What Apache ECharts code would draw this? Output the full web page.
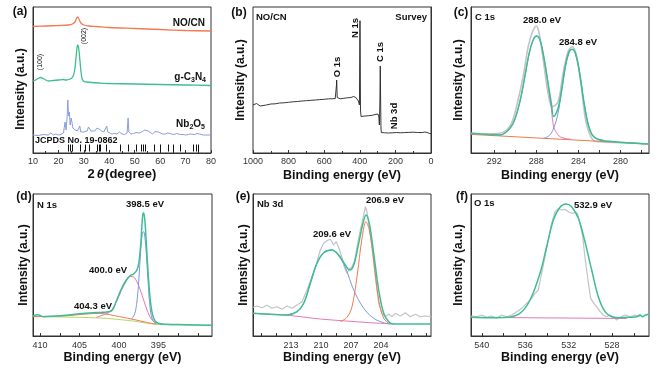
<!DOCTYPE html>
<html><head><meta charset="utf-8">
<script src="https://cdn.jsdelivr.net/npm/echarts@6/dist/echarts.min.js"></script>
<style>html,body{margin:0;padding:0;background:#fff}#c{width:659px;height:372px}</style>
</head><body><div id="c"></div>
<script>
// ================= DATA =================
// (a) XRD, 2theta (degree) vs intensity (a.u.)
const xrdNOCN = [[10,126.5],[15,127],[20,127.5],[24,128],[25.5,129],[26.5,131],[27,134],[27.5,136],[28,134.5],[28.5,131.5],[29,129.5],[30,128],[32,127],[35,126.5],[40,125.5],[50,124.5],[60,123.5],[70,122.5],[80,122]];
const xrdGCN = [[10,72],[11,73],[12,74.5],[13,75.5],[14,74.5],[15,73],[16,72],[18,72.5],[20,73],[22,73.5],[23,73],[24,73.5],[25,74.5],[25.8,77],[26.4,83],[26.9,95],[27.3,105],[27.6,108],[27.9,106],[28.3,97],[28.8,83],[29.3,74.5],[30,71.5],[31,71],[33,70.5],[36,70],[40,69.5],[50,69],[60,68.5],[70,68],[80,67.5]];
const xrdNb2O5 = [[10,18],[12,17.5],[14,18.5],[16,18],[17,20],[18,18],[19,19],[20,18],[21,18.5],[22,20],[22.6,31],[23,23],[23.4,35],[23.7,53],[24.0,37],[24.3,41],[24.6,28],[25.0,35],[25.3,31],[25.7,25],[26.2,27],[26.6,23],[27.0,25],[27.5,22],[28.0,22],[28.4,27],[28.8,21],[29.5,20],[30,21],[30.5,20],[31.3,22],[31.8,26],[32.3,25],[32.8,22],[33.5,20],[34.3,22],[35.2,25],[35.6,27],[36.0,24],[36.6,26],[37.0,22],[37.8,21],[38.5,22],[39.0,27],[39.4,21],[40,19],[41,19],[42,19.5],[43,19],[44,21],[44.5,22],[45,19],[46,18.5],[47,20],[47.4,35],[47.7,21],[48.5,19],[49.5,19.5],[50.5,20.5],[51.2,22],[52,20],[53,21.5],[54,23],[54.6,24],[55.3,22],[56,20],[57,19],[58,21.5],[58.6,23],[59.3,21],[60,19.5],[61,19],[62,19],[63,20],[63.6,20],[64.5,19],[65.5,18.5],[66.5,19.5],[67.2,19.5],[68,18.5],[69,18.5],[70,18],[71,18.5],[72,19],[72.6,19.5],[73.5,18.5],[74.5,19.5],[75.5,19],[77,18],[78,18],[80,18]];
const jcpds = [23.8,24.7,25.5,28.7,30.4,32.1,35.3,35.9,36.6,38.7,44.2,47.5,50.8,52.5,53.4,54.3,57.6,60.0,63.3,65.0,67.9,73.2,74.2,75.1];

// (b) XPS survey, binding energy (eV) vs intensity
const survey = [[1000,48],[990,48.5],[980,49.5],[975,51.5],[970,47.5],[960,47],[950,47.5],[925,48],[900,49],[875,49.2],[850,50],[825,50.2],[800,50.7],[775,51.2],[750,51.5],[725,52],[700,52.3],[675,52.7],[650,53],[625,53.4],[600,53.7],[575,54.2],[555,54.2],[545,54.5],[538,54.5],[533,55.5],[531,68],[530,73],[529,68],[527,55.5],[520,54],[510,54.2],[490,54.7],[470,55.2],[450,55.5],[435,56.5],[428,57],[422,55.5],[415,54],[408,52],[405,53.5],[402,48],[400,113],[399,132.3],[398,113],[396,43],[393,36.5],[385,36.7],[370,37],[350,37.3],[330,37.7],[315,38.5],[305,39.5],[298,39],[293,36],[290,28],[287,53],[285,87],[283,53],[281,25],[279,20.5],[275,20],[260,20.2],[240,20],[215,20.2],[205,20.8],[195,20.5],[170,20.2],[150,20.4],[125,20.6],[100,20.8],[75,20.5],[50,20.4],[35,21],[28,22],[22,20.5],[15,20],[8,19.5],[0,19.5]];

// (c) C 1s
const c1sRaw = [[294.2,19.7],[292.72,19],[291.46,19.7],[290.82,23],[290.35,29.7],[289.88,46.3],[289.25,76.3],[288.77,106.3],[288.36,121.3],[287.99,127],[287.73,119.7],[287.29,89.7],[286.88,59.7],[286.47,46.3],[285.93,51.3],[285.46,79.7],[284.99,101.3],[284.61,106.3],[284.2,98],[283.73,66.3],[283.25,29.7],[282.62,13],[281.99,11.3],[279.47,10.3],[277.32,9]];
const c1sFit = [[294.2,19.7],[292.72,18.7],[291.46,18],[290.82,21.3],[290.19,29.7],[289.56,51.3],[289.09,76.3],[288.68,99.7],[288.3,113],[287.99,117],[287.67,113.7],[287.29,96.3],[286.88,69.7],[286.57,49.7],[286.36,36.5],[286.1,40],[285.84,48.5],[285.56,65.5],[285.24,87],[284.89,101.3],[284.61,103.7],[284.29,99.7],[283.88,79.7],[283.51,53],[283.1,29.7],[282.69,18],[282.15,13.7],[281.36,12],[279.47,10.3],[277.32,9]];
const c1s288 = [[292.72,18.7],[291.46,18],[290.82,21.3],[290.19,29.7],[289.56,51.3],[289.09,76.3],[288.68,99.7],[288.3,113],[287.99,117],[287.67,113.7],[287.29,96],[286.88,68],[286.57,44],[286.35,26],[286.09,20.5],[285.84,17],[285.56,15.5],[285.15,14.3],[284.68,13.8]];
const c1s284 = [[287.35,14.5],[286.88,16.5],[286.57,20],[286.35,25],[286.09,33],[285.84,45],[285.56,64],[285.24,86],[284.89,100],[284.61,103.7],[284.29,99.7],[283.88,79.7],[283.51,53],[283.1,29.7],[282.69,18],[282.15,13.7],[281.68,12.8]];
const c1sBg = [[294.2,18.6],[277.3,9]];
const c1sTicks = [292,288,284,280];

// (d) N 1s
const n1sFit = [[410.9,20],[410.27,21.3],[409.63,19.3],[408.36,19.7],[406.67,20.7],[404.98,22.3],[403.29,23.3],[402.02,23.7],[400.97,25],[400.33,35],[399.7,47],[399.07,56],[398.56,60.5],[398.14,62],[397.72,66],[397.46,74],[397.2,96],[397.04,116],[396.91,123.3],[396.74,117.7],[396.53,92.7],[396.27,59.3],[395.98,32.7],[395.6,17.7],[395.05,12.7],[393.99,11.7],[391.46,11.3],[388.2,10.7]];
const n1s400 = [[402.87,18.7],[402.02,21],[401.18,24],[400.33,34],[399.7,45.5],[399.06,55],[398.56,59.5],[398.13,59],[397.71,54],[397.29,46],[396.87,36],[396.44,26],[395.9,17],[395.26,12.7]];
const n1s398 = [[398.43,16.7],[398.01,22],[397.71,35],[397.46,58],[397.25,85],[397.03,103],[396.87,104.3],[396.7,98],[396.49,78],[396.27,50],[396.02,26],[395.68,15],[395.26,12.5]];
const n1s404 = [[410.9,19.3],[406.67,20.3],[404.14,22],[402.45,22.7],[401.18,21.3],[399.91,19.3],[398.22,16.7],[396.53,13.7],[395.26,11.7]];
const n1sBg = [[410.9,19.5],[402.45,18],[398.22,15],[395.26,11.7],[388.2,10.7]];
const n1sTicks = [410,405,400,395];

// (e) Nb 3d
const nbRaw = [[216.8,28.7],[216.4,30],[215.9,28.3],[215.4,30.7],[214.9,27.7],[214.4,29.3],[213.9,26.7],[213.4,30],[212.9,27.7],[212.4,31],[211.9,34.3],[211.4,46],[210.9,59.3],[210.4,74.3],[210.07,86],[209.73,92.7],[209.4,95.3],[209.07,96.7],[208.73,91],[208.47,94.3],[208.2,87.7],[207.93,79.3],[207.67,69.3],[207.4,62.7],[207.13,67.7],[206.9,68.7],[206.63,76],[206.33,92.7],[206.07,106],[205.8,117.7],[205.57,129.3],[205.4,124.3],[205.13,106],[204.87,86],[204.57,59.3],[204.23,32.7],[203.9,22.7],[203.57,19.3],[203.23,22],[202.9,19.3],[202.57,22.7],[202.07,20],[201.57,23.3],[201.07,19.3],[200.57,21.7],[200.07,19.3],[199.57,20],[199.0,19.3]];
const nbFit = [[216.8,22.7],[215.07,21.7],[213.4,21],[212.4,24.3],[211.73,32.7],[211.07,52.7],[210.4,72.7],[209.73,83.3],[208.9,86],[208.23,81],[207.57,71],[207.13,66],[206.73,71],[206.23,92.7],[205.8,112.7],[205.5,121],[205.17,112.7],[204.73,82.7],[204.23,46],[203.73,22.7],[203.23,14.3],[202.73,12],[199.0,12]];
const nb209 = [[213.4,21],[212.4,24.3],[211.73,32.7],[211.07,52.7],[210.4,72.7],[209.73,83.3],[208.9,86],[208.23,80],[207.57,68.7],[206.73,46],[205.73,27.7],[204.73,17.7],[203.73,13.3],[203.07,12]];
const nb206 = [[208.07,14.3],[207.4,18.7],[206.9,29.3],[206.4,59.3],[205.9,97.7],[205.5,114.3],[205.17,106],[204.73,76],[204.23,36],[203.73,17.7],[203.23,12.7]];
const nbBg = [[216.8,22.7],[213.4,20.8],[210.07,17],[205.07,13.3],[202.73,12]];
const nbTicks = [213,210,207,204];

// (f) O 1s
const o1sRaw = [[541.0,20],[540.48,19.3],[540.02,21],[539.56,18.7],[539.1,20],[538.64,17.7],[538.17,21],[537.71,19.3],[537.25,21],[536.79,24.3],[536.33,27.7],[535.87,32.7],[535.41,37.7],[535.1,42.7],[534.8,46],[534.49,62.7],[534.18,79.3],[533.87,96],[533.57,112.7],[533.26,124.3],[532.95,127.7],[532.65,126],[532.34,126.7],[532.03,124.3],[531.73,122.7],[531.42,123.3],[531.2,122.7],[530.96,112.7],[530.71,99.3],[530.47,76],[530.22,56],[529.98,37.7],[529.67,32.7],[529.42,29.3],[529.11,24.3],[528.81,21],[528.5,19.3],[528.2,21],[527.89,19.3],[527.58,16],[527.27,18.7],[526.81,21],[526.35,19.3],[525.89,21],[525.43,19.3]];
const o1sFit = [[541.0,18.7],[539.25,18.3],[537.71,18.7],[536.49,22.7],[535.56,36],[534.64,62.7],[534.03,89.3],[533.41,116],[532.8,128.7],[532.25,132],[531.73,129.3],[531.11,117.7],[530.5,94.3],[529.88,66],[529.27,39.3],[528.65,24.3],[528.04,19.3],[527.27,18.3],[526.35,18.7],[525.74,19.3],[525.43,21],[525.18,19.3],[524.97,20.7],[524.6,22]];
const o1sBg = [[541.0,18.7],[526.66,17.5]];
const o1sTicks = [540,536,532,528];

// ================= LAYOUT / STYLE =================
const FONT = '"Liberation Sans", Arial, Helvetica, sans-serif';
const C = {orange:'#f27a50', teal:'#3dbd95', pink:'#e27ab8', comp:'#7f98e0', lime:'#b7d56a', gray:'#c3c3c3', nocn:'#f47a52', gcn:'#3dbf8e', nb:'#8a9fd8'};

const grids = [
  {left:33, top:7, width:178, height:146},
  {left:253, top:7, width:178, height:146},
  {left:471, top:7, width:178, height:146},
  {left:33, top:194, width:179, height:142},
  {left:253, top:194, width:178, height:142},
  {left:471, top:194, width:178, height:142}
];

const tickLabel = {fontSize:9, color:'#333', fontFamily:FONT, formatter: v => String(v)};
const axTitle = {fontSize:12.5, fontWeight:'bold', color:'#111', fontFamily:FONT};

function xAx(i, cfg) {
  const top = i < 3;
  const base = {
    gridIndex:i, type:'value', inverse: cfg.inverse || false, min:cfg.min, max:cfg.max,
    axisLine:{show:true, onZero:false, lineStyle:{color:'#333', width:1}},
    axisTick:{show:true, inside:true, length:3, lineStyle:{color:'#333'}},
    axisLabel:Object.assign({margin: top ? 4 : 5}, tickLabel),
    splitLine:{show:false},
    name: cfg.name || 'Binding energy (eV)', nameLocation:'middle', nameGap: cfg.nameGap || (top ? 16 : 14),
    nameTextStyle: cfg.nameTextStyle || axTitle
  };
  if (cfg.interval) {
    base.interval = cfg.interval;
    base.minorTick = {show:true, splitNumber:2, length:2, lineStyle:{color:'#333'}};
  }
  if (cfg.labels) {
    base.axisLabel.customValues = cfg.labels;
    base.axisTick.customValues = cfg.ticks;
  }
  return base;
}
function yAx(i, max, extra) {
  return Object.assign({
    gridIndex:i, type:'value', min:0, max:max,
    axisLine:{show:true, lineStyle:{color:'#333'}}, axisTick:{show:false}, axisLabel:{show:false}, splitLine:{show:false},
    name:'Intensity (a.u.)', nameLocation:'middle', nameGap:6, nameTextStyle:Object.assign({}, axTitle, {fontSize:12})
  }, extra || {});
}
function ln(i, data, color, width, z, smooth) {
  return {type:'line', xAxisIndex:i, yAxisIndex:i, data:data, symbol:'none', smooth: smooth || false,
    lineStyle:{color:color, width:width}, z:z, silent:true, animation:false};
}

const xAxes = [
  xAx(0, {min:10, max:80, interval:10, name:'{n|2}{t|θ}{n|(degree)}', nameGap:15,
    nameTextStyle:{rich:{n:{fontSize:13, fontWeight:'bold', color:'#111', fontFamily:FONT}, t:{fontSize:13, fontWeight:'bold', fontStyle:'italic', color:'#111', fontFamily:FONT, padding:[0,1,0,2]}}}}),
  xAx(1, {min:0, max:1000, interval:200, inverse:true}),
  xAx(2, {min:277.3, max:294.2, inverse:true, labels:c1sTicks, ticks:[292,290,288,286,284,282,280,278]}),
  xAx(3, {min:388.2, max:410.9, inverse:true, labels:n1sTicks, ticks:[410,407.5,405,402.5,400,397.5,395,392.5,390]}),
  xAx(4, {min:199.0, max:216.8, inverse:true, labels:nbTicks, ticks:[216,214.5,213,211.5,210,208.5,207,205.5,204,202.5,201,199.5]}),
  xAx(5, {min:524.6, max:541.0, inverse:true, labels:o1sTicks, ticks:[540,538,536,534,532,530,528,526]})
];
const yAxes = [
  yAx(0, 146, {nameTextStyle:Object.assign({}, axTitle, {fontSize:12, padding:[0,18,0,0]})}),
  yAx(1, 146), yAx(2, 146), yAx(3, 142, {nameGap:3}), yAx(4, 142, {nameGap:3}), yAx(5, 142)
];

const series = [
  ln(0, xrdNOCN, C.nocn, 1.3, 3, 0.3),
  ln(0, xrdGCN, C.gcn, 1.3, 3, 0.3),
  Object.assign(ln(0, xrdNb2O5, C.nb, 1, 3, false), {
    markLine:{symbol:['none','none'], silent:true, animation:false, label:{show:false},
      lineStyle:{color:'#111', width:1, type:'solid'},
      data: jcpds.map(x => [{coord:[x, 1.5]}, {coord:[x, 8.5]}])}
  }),
  ln(1, survey, '#222', 0.9, 3, false),
  ln(2, c1sRaw, C.gray, 1.6, 2, 0.35),
  ln(2, c1sBg, C.orange, 1, 3, false),
  ln(2, c1s288, C.pink, 1, 4, 0.35),
  ln(2, c1s284, C.comp, 1, 4, 0.35),
  ln(2, c1sFit, C.teal, 1.5, 5, 0.35),
  ln(3, n1sBg, C.lime, 1, 2, 0.3),
  ln(3, n1s404, C.orange, 1, 3, 0.3),
  ln(3, n1s400, C.pink, 1, 4, 0.35),
  ln(3, n1s398, C.comp, 1, 4, 0.35),
  ln(3, n1sFit, C.teal, 1.5, 5, 0.35),
  ln(4, nbRaw, C.gray, 1.2, 2, false),
  ln(4, nbBg, C.pink, 1, 3, 0.3),
  ln(4, nb209, C.comp, 1, 4, 0.35),
  ln(4, nb206, C.orange, 1, 4, 0.35),
  ln(4, nbFit, C.teal, 1.5, 5, 0.35),
  ln(5, o1sRaw, C.gray, 1.2, 2, false),
  ln(5, o1sBg, C.pink, 1, 3, false),
  ln(5, o1sFit, C.teal, 1.5, 5, 0.35)
];

function txt(text, x, y, o) {
  o = o || {};
  const st = {text:text, fill:'#111', font:(o.weight || 'bold') + ' ' + (o.size || 9) + 'px ' + FONT,
    align:o.align || 'center', verticalAlign:'middle'};
  if (o.rich) st.rich = o.rich;
  return {type:'text', x:x, y:y, rotation:o.rot || 0, z:100, silent:true, style:st};
}
const R90 = Math.PI / 2;
const subRich = {a:{fontSize:10, fontWeight:'bold', fontFamily:FONT, color:'#111', lineHeight:14},
                 s:{fontSize:7, fontWeight:'bold', fontFamily:FONT, color:'#111', lineHeight:7, verticalAlign:'bottom'}};
const graphics = [
  txt('(a)', 20, 12, {size:12}), txt('(b)', 239, 13, {size:12}), txt('(c)', 461, 13, {size:12}),
  txt('(d)', 24, 197, {size:12}), txt('(e)', 243, 197, {size:12}), txt('(f)', 462, 197, {size:12}),
  // (a)
  txt('NO/CN', 205, 23, {size:10, align:'right'}),
  txt('{a|g-C}{s|3}{a|N}{s|4}', 206, 77, {align:'right', rich:subRich}),
  txt('{a|Nb}{s|2}{a|O}{s|5}', 205, 124, {align:'right', rich:subRich}),
  txt('(100)', 40.5, 62, {size:7, weight:'normal', rot:R90}),
  txt('(002)', 84, 36, {size:7, weight:'normal', rot:R90}),
  txt('JCPDS No. 19-0862', 35, 141, {size:9, align:'left'}),
  // (b)
  txt('NO/CN', 256, 17, {size:9.5, align:'left'}),
  txt('Survey', 427, 17, {size:9.5, align:'right'}),
  txt('N 1s', 355, 28, {size:9.5, rot:R90}),
  txt('O 1s', 337, 67, {size:9.5, rot:R90}),
  txt('C 1s', 380, 52, {size:9.5, rot:R90}),
  txt('Nb 3d', 394, 116, {size:9.5, rot:R90}),
  // (c)
  txt('C 1s', 475, 17, {size:9.5, align:'left'}),
  txt('288.0 eV', 542, 20, {size:9.5}),
  txt('284.8 eV', 578, 42, {size:9.5}),
  // (d)
  txt('N 1s', 37, 205, {size:9.5, align:'left'}),
  txt('398.5 eV', 145, 204, {size:9.5}),
  txt('400.0 eV', 108, 270, {size:9.5}),
  txt('404.3 eV', 93, 306, {size:9.5}),
  // (e)
  txt('Nb 3d', 257, 204, {size:9.5, align:'left'}),
  txt('209.6 eV', 332, 234, {size:9.5}),
  txt('206.9 eV', 385, 200, {size:9.5}),
  // (f)
  txt('O 1s', 474, 203, {size:9.5, align:'left'}),
  txt('532.9 eV', 593, 205, {size:9.5})
];

const chart = echarts.init(document.getElementById('c'), null, {renderer:'canvas'});
chart.setOption({
  animation:false,
  backgroundColor:'#fff',
  grid: grids.map(g => Object.assign({show:true, borderColor:'#333', borderWidth:1, backgroundColor:'transparent'}, g)),
  xAxis: xAxes,
  yAxis: yAxes,
  series: series,
  graphic: graphics
});
</script>
</body></html>
